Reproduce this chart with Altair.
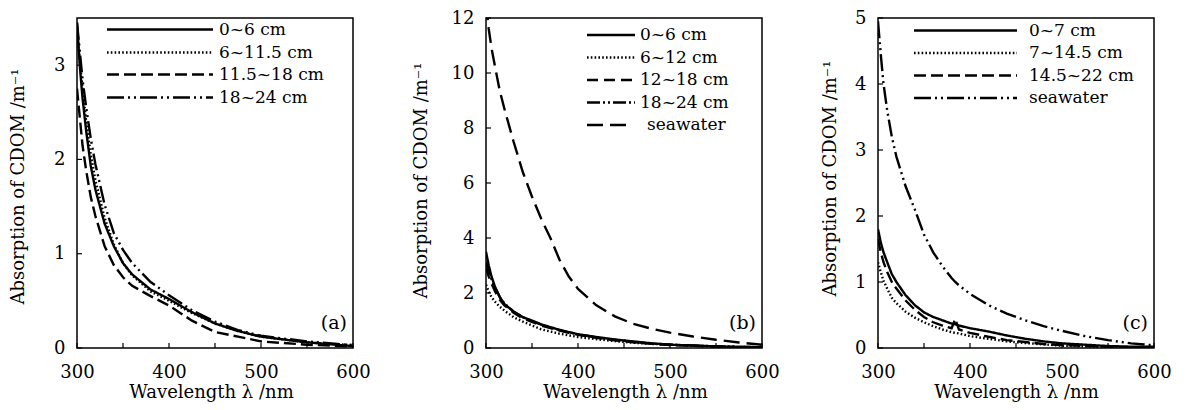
import altair as alt
import pandas as pd

FONT = "DejaVu Serif"

# ---------------- Panel (a) ----------------
wl_a = [300, 303, 306, 310, 315, 320, 330, 340, 350, 360, 380, 400, 425, 450, 475, 500, 550, 600]
a_s1 = [3.45, 3.0, 2.65, 2.3, 1.93, 1.68, 1.32, 1.08, 0.9, 0.78, 0.62, 0.52, 0.38, 0.26, 0.18, 0.12, 0.06, 0.02]
a_s2 = [3.4, 3.05, 2.75, 2.4, 2.05, 1.78, 1.38, 1.1, 0.9, 0.77, 0.6, 0.5, 0.37, 0.26, 0.18, 0.12, 0.06, 0.03]
a_s3 = [2.75, 2.45, 2.15, 1.88, 1.6, 1.4, 1.08, 0.88, 0.75, 0.66, 0.55, 0.45, 0.29, 0.17, 0.12, 0.07, 0.035, 0.015]
a_s4 = [3.45, 3.15, 2.85, 2.55, 2.22, 1.95, 1.52, 1.22, 1.04, 0.9, 0.7, 0.56, 0.4, 0.28, 0.19, 0.13, 0.07, 0.03]
a_names = ["0~6 cm", "6~11.5 cm", "11.5~18 cm", "18~24 cm"]

# ---------------- Panel (b) ----------------
wl_b = [300, 303, 306, 310, 315, 320, 330, 340, 350, 360, 370, 380, 390, 400, 420, 440, 460, 480, 500, 525, 550, 575, 600]
b_s1 = [3.5, 3.0, 2.6, 2.2, 1.85, 1.6, 1.32, 1.12, 1.0, 0.86, 0.76, 0.66, 0.58, 0.5, 0.4, 0.31, 0.24, 0.17, 0.12, 0.09, 0.06, 0.04, 0.03]
b_s2 = [2.3, 2.05, 1.85, 1.68, 1.5, 1.36, 1.12, 0.96, 0.82, 0.68, 0.6, 0.52, 0.46, 0.4, 0.32, 0.25, 0.19, 0.15, 0.12, 0.08, 0.06, 0.04, 0.02]
b_s3 = [2.9, 2.6, 2.35, 2.05, 1.75, 1.55, 1.28, 1.08, 0.95, 0.82, 0.72, 0.63, 0.55, 0.48, 0.37, 0.28, 0.21, 0.15, 0.11, 0.08, 0.05, 0.03, 0.02]
b_s4 = [3.1, 2.8, 2.5, 2.2, 1.85, 1.62, 1.33, 1.12, 0.98, 0.85, 0.74, 0.65, 0.57, 0.5, 0.38, 0.3, 0.22, 0.16, 0.12, 0.09, 0.06, 0.04, 0.03]
b_sw = [12.5, 11.6, 10.9, 10.2, 9.35, 8.7, 7.5, 6.4, 5.5, 4.7, 4.0, 3.2, 2.6, 2.15, 1.55, 1.15, 0.88, 0.7, 0.56, 0.42, 0.3, 0.2, 0.12]
b_names = ["0~6 cm", "6~12 cm", "12~18 cm", "18~24 cm", "seawater"]

# ---------------- Panel (c) ----------------
wl_c = [300, 303, 306, 310, 315, 320, 330, 340, 350, 360, 370, 380, 384, 388, 400, 420, 440, 460, 480, 500, 525, 550, 575, 600]
c_s1 = [1.8, 1.6, 1.45, 1.3, 1.12, 1.0, 0.8, 0.65, 0.54, 0.47, 0.42, 0.37, 0.36, 0.34, 0.3, 0.25, 0.19, 0.14, 0.1, 0.07, 0.05, 0.03, 0.02, 0.02]
c_s2 = [1.3, 1.15, 1.02, 0.9, 0.76, 0.68, 0.55, 0.46, 0.39, 0.33, 0.28, 0.24, 0.23, 0.22, 0.18, 0.14, 0.1, 0.075, 0.055, 0.035, 0.025, 0.015, 0.01, 0.01]
c_s3 = [1.65, 1.45, 1.3, 1.15, 1.0, 0.9, 0.72, 0.58, 0.47, 0.39, 0.34, 0.3, 0.44, 0.28, 0.23, 0.17, 0.12, 0.09, 0.06, 0.045, 0.03, 0.02, 0.01, 0.01]
c_sw = [4.95, 4.45, 4.0, 3.6, 3.2, 2.9, 2.45, 2.1, 1.72, 1.45, 1.24, 1.06, 1.0, 0.95, 0.82, 0.65, 0.52, 0.42, 0.33, 0.26, 0.18, 0.12, 0.07, 0.04]
c_names = ["0~7 cm", "7~14.5 cm", "14.5~22 cm", "seawater"]

x_tick_vals = [300, 350, 400, 450, 500, 550, 600]
x_label_vals = [300, 400, 500, 600]
y_vals_a = [0, 1, 2, 3]
y_vals_b = [0, 2, 4, 6, 8, 10, 12]
y_vals_c = [0, 1, 2, 3, 4, 5]
panel_labels = ["(a)", "(b)", "(c)"]

# dash styles
SOLID = [1, 0]
DOT = [1.6, 2.2]
DASH = [12, 5]
DASHDOT2 = [17, 4, 2, 4, 2, 4]
LONGDASH = [16, 7]

W, H = 276, 330
LW = 2.4


def make_df(wl, series, names):
    rows = []
    for name, vals in zip(names, series):
        for w, v in zip(wl, vals):
            rows.append({"wl": w, "val": v, "series": name})
    return pd.DataFrame(rows)


def panel(df, names, dashes, ymax, yvals, legend, label, ytx, yty, xtx, lx0, lx1, ltx):
    lines = alt.Chart(df).mark_line(clip=True, strokeWidth=LW, color="black").encode(
        x=alt.X("wl:Q", scale=alt.Scale(domain=[300, 600], nice=False, zero=False),
                axis=alt.Axis(values=x_label_vals, format="d", labelPadding=15, labelFlush=False,
                              title="Wavelength λ /nm", titleX=xtx, titleY=35,
                              titleBaseline="top", titleAlign="center")),
        y=alt.Y("val:Q", scale=alt.Scale(domain=[0, ymax], nice=False, zero=True),
                axis=alt.Axis(values=yvals, format="d", labelPadding=12, labelFlush=False,
                              title="Absorption of CDOM /m⁻¹", titleX=ytx, titleY=yty,
                              titleBaseline="middle", titleAlign="center")),
        strokeDash=alt.StrokeDash("series:N", scale=alt.Scale(domain=names, range=dashes), legend=None),
        detail="series:N",
    )
    xt = alt.Chart(pd.DataFrame({"t": x_tick_vals})).mark_rule(color="black", strokeWidth=1.2).encode(
        x="t:Q", y=alt.value(H), y2=alt.value(H - 5))
    yt = alt.Chart(pd.DataFrame({"t": yvals})).mark_rule(color="black", strokeWidth=1.2).encode(
        y="t:Q", x=alt.value(0), x2=alt.value(5))
    layers = [lines, xt, yt]
    one = pd.DataFrame({"k": [0]})
    for i, (name, dash, ypix) in enumerate(legend):
        layers.append(alt.Chart(one).mark_rule(strokeDash=dash, strokeWidth=LW, color="black").encode(
            x=alt.value(lx0), x2=alt.value(lx1[i] if isinstance(lx1, list) else lx1), y=alt.value(ypix)))
        layers.append(alt.Chart(one).mark_text(align="left", baseline="middle", font=FONT, fontSize=17,
                                               color="black").encode(
            x=alt.value(ltx[i] if isinstance(ltx, list) else ltx), y=alt.value(ypix), text=alt.value(name)))
    layers.append(alt.Chart(one).mark_text(align="right", baseline="middle", font=FONT, fontSize=19,
                                           color="black").encode(
        x=alt.value(W - 6), y=alt.value(H - 25), text=alt.value(label)))
    return alt.layer(*layers).properties(width=W, height=H)


df_a = make_df(wl_a, [a_s1, a_s2, a_s3, a_s4], a_names)
df_b = make_df(wl_b, [b_s1, b_s2, b_s3, b_s4, b_sw], b_names)
df_c = make_df(wl_c, [c_s1, c_s2, c_s3, c_sw], c_names)

dash_a = [SOLID, DOT, DASH, DASHDOT2]
dash_b = [SOLID, DOT, [11, 6], [13, 3, 2, 3, 2, 3], LONGDASH]
dash_c = [SOLID, DOT, DASH, DASHDOT2]

leg_a = [(n, d, y) for n, d, y in zip(a_names, dash_a, [11.5, 34.5, 56.5, 79.5])]
leg_b = [(n, d, y) for n, d, y in zip(b_names, dash_b, [17, 39.5, 62, 84.5, 107])]
leg_c = [(n, d, y) for n, d, y in zip(c_names, dash_c, [12.5, 35, 57.5, 80])]

pa = panel(df_a, a_names, dash_a, 3.5, y_vals_a, leg_a, panel_labels[0], -58.5, 168, 134, 30, 136, 142)
pb = panel(df_b, b_names, dash_b, 12, y_vals_b, leg_b, panel_labels[1], -64.8, 162, 139, 101,
           [149, 149, 149, 149, 146], [154, 154, 154, 154, 161])
pc = panel(df_c, c_names, dash_c, 5, y_vals_c, leg_c, panel_labels[2], -47.8, 160, 138, 36, 139, 151)

chart = alt.hconcat(pa, pb, pc, spacing=40).resolve_scale(strokeDash="independent").properties(
    padding={"left": 0, "top": 0, "right": 0, "bottom": 0}
).configure_view(stroke="black", strokeWidth=1.5).configure_axis(
    labelFont=FONT, labelFontSize=18, labelColor="black",
    titleFont=FONT, titleFontSize=18, titleFontWeight="normal", titleColor="black",
    domain=False, ticks=False, tickSize=0, grid=False,
)

chart.save("out.html", embed_options={"renderer": "svg", "actions": False})
